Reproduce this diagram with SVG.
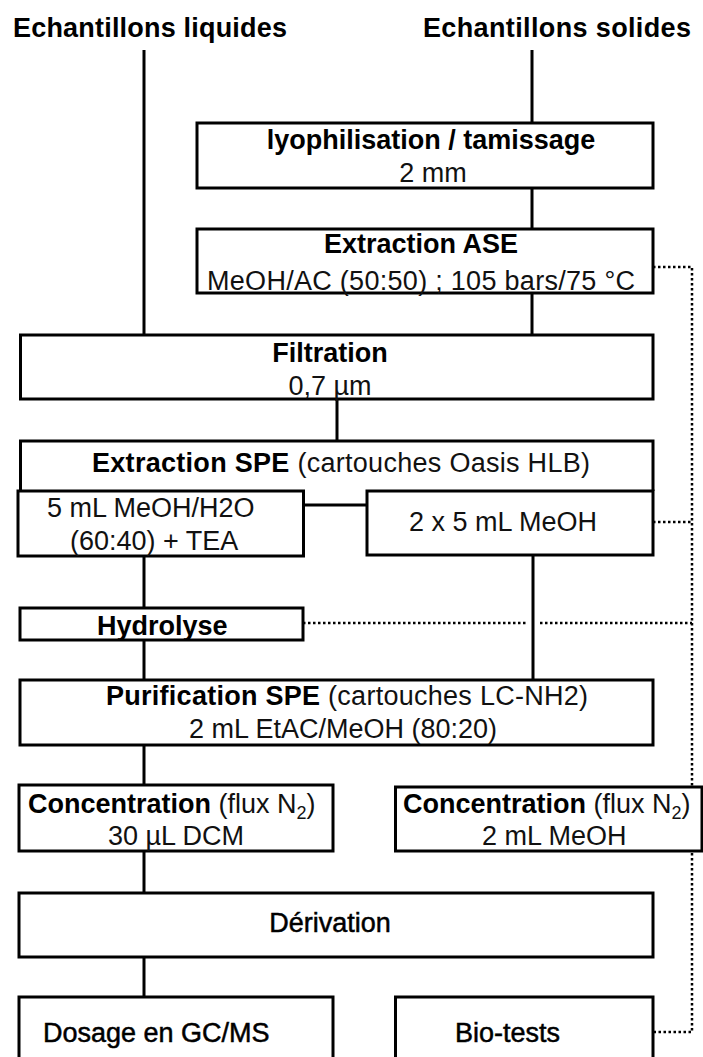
<svg xmlns="http://www.w3.org/2000/svg" width="703" height="1057" viewBox="0 0 703 1057">
<style>
text{font-family:"Liberation Sans",Arial,sans-serif;font-size:27px;fill:#111}
.b{font-weight:bold;fill:#000}
.m{fill:#000;stroke:#000;stroke-width:0.5}
.box{fill:#fff;stroke:#000;stroke-width:3}
.ln{fill:none;stroke:#000;stroke-width:3}
.dot{fill:none;stroke:#000;stroke-width:2.5;stroke-dasharray:2.5 2.5}
.sub{font-size:18px}
</style>
<rect width="703" height="1057" fill="#fff"/>
<g id="connectors">
<path class="ln" d="M144,50V335M532,50V123M532,188V229M532,293V335M337,399V441M303,505H367M144,556V608M533,555V680M144,640V680M144,745V785M144,851V893M144,957V997"/>
<path class="dot" d="M653,267H692V1032H653M653,522H692M303,623H526M540,623H692"/>
</g>
<g id="title-liquides"><text class="b" x="13" y="37" textLength="274">Echantillons liquides</text></g>
<g id="title-solides"><text class="b" x="423" y="37" textLength="268">Echantillons solides</text></g>
<g id="lyophilisation">
<rect class="box" x="197" y="123" width="456" height="65"/>
<text class="b" x="431" y="149" text-anchor="middle">lyophilisation / tamissage</text>
<text x="433" y="182" text-anchor="middle">2 mm</text>
</g>
<g id="extraction-ase">
<rect class="box" x="197" y="229" width="456" height="64"/>
<text class="b" x="421" y="253" text-anchor="middle">Extraction ASE</text>
<text x="207" y="290" textLength="428">MeOH/AC (50:50) ; 105 bars/75 °C</text>
</g>
<g id="filtration">
<rect class="box" x="20.5" y="335" width="632.5" height="64"/>
<text class="b" x="330" y="362" text-anchor="middle">Filtration</text>
<text x="330" y="395" text-anchor="middle">0,7 µm</text>
</g>
<g id="extraction-spe">
<path class="box" d="M20.5,491V441H653V491"/>
<text x="92" y="472" textLength="498"><tspan class="b">Extraction SPE</tspan> (cartouches Oasis HLB)</text>
</g>
<g id="spe-eau">
<rect class="box" x="18" y="491" width="285.5" height="65"/>
<text x="47" y="517">5 mL MeOH/H2O</text>
<text x="70" y="550">(60:40) + TEA</text>
</g>
<g id="spe-meoh">
<rect class="box" x="367" y="491" width="286" height="64"/>
<text x="409" y="531">2 x 5 mL MeOH</text>
</g>
<g id="hydrolyse">
<rect class="box" x="20" y="608" width="283" height="32"/>
<text class="b" x="97" y="635">Hydrolyse</text>
</g>
<g id="purification">
<rect class="box" x="20" y="680" width="633" height="65"/>
<text x="106" y="705" textLength="482"><tspan class="b">Purification SPE</tspan> (cartouches LC-NH2)</text>
<text x="189" y="738">2 mL EtAC/MeOH (80:20)</text>
</g>
<g id="concentration-gc">
<rect class="box" x="19" y="785" width="314" height="66"/>
<text x="28" y="813"><tspan class="b">Concentration</tspan> (flux N<tspan class="sub" dy="6">2</tspan><tspan dy="-6">)</tspan></text>
<text x="108" y="845">30 µL DCM</text>
</g>
<g id="concentration-bio">
<rect class="box" x="395.5" y="787" width="306.5" height="64"/>
<text x="403" y="813"><tspan class="b">Concentration</tspan> (flux N<tspan class="sub" dy="6">2</tspan><tspan dy="-6">)</tspan></text>
<text x="482" y="845">2 mL MeOH</text>
</g>
<g id="derivation">
<rect class="box" x="19" y="893" width="634" height="64"/>
<text class="m" x="330" y="932" text-anchor="middle">Dérivation</text>
</g>
<g id="dosage">
<rect class="box" x="19" y="997" width="314" height="72"/>
<text class="m" x="43" y="1042">Dosage en GC/MS</text>
</g>
<g id="bio-tests">
<rect class="box" x="395.5" y="997" width="257.5" height="72"/>
<text class="m" x="455" y="1042">Bio-tests</text>
</g>
</svg>
